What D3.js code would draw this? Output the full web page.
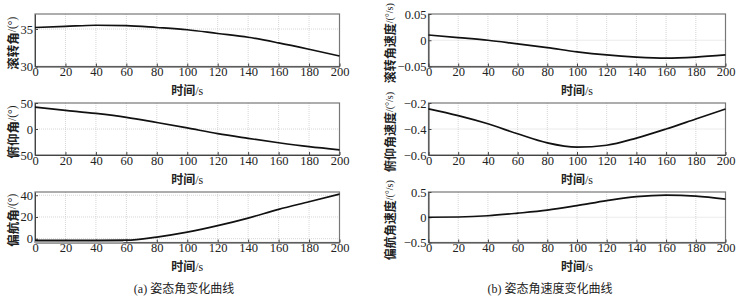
<!DOCTYPE html>
<html>
<head>
<meta charset="utf-8">
<script src="https://cdn.jsdelivr.net/npm/d3@7"></script>
<style>
  body { margin: 0; background: #fff; }
  svg { display: block; }
  .label { font-family: "Noto Sans CJK SC", sans-serif; font-size: 12.5px; font-weight: bold; fill: #222; }
  .unit { font-family: "Liberation Serif", serif; font-weight: normal; }
  .caption { font-family: "Liberation Serif", "Noto Sans CJK SC", serif; font-size: 12px; fill: #222; }
</style>
</head>
<body>
<svg id="chart" width="741" height="297"></svg>
<script>
const time = [0, 20, 40, 60, 80, 100, 120, 140, 160, 180, 200];
const xTicks = [0, 20, 40, 60, 80, 100, 120, 140, 160, 180, 200];

// attitude angles (deg)
const roll = [35.2, 35.35, 35.5, 35.45, 35.2, 34.9, 34.4, 33.9, 33.15, 32.3, 31.4];
const pitch = [42, 36, 30, 22.5, 12.5, 2, -9, -18, -26.5, -34, -40];
const yaw = [-1.5, -1.5, -1.5, -1.4, 1.5, 6, 12, 19, 27, 34, 41];
const yawGrayTime = [0, 58];
const yawGray = [-2.6, -2.6];

// attitude angular rates (deg/s)
const rollRate = [0.01, 0.005, 0, -0.007, -0.014, -0.022, -0.028, -0.032, -0.034, -0.032, -0.028];
const pitchRate = [-0.245, -0.297, -0.36, -0.437, -0.507, -0.54, -0.525, -0.47, -0.4, -0.323, -0.246];
const yawRate = [0, 0.005, 0.03, 0.08, 0.14, 0.23, 0.33, 0.41, 0.44, 0.42, 0.36];

const panels = [
    { col: 0, row: 0, values: roll, domain: [30, 37], ticks: [30, 35], label: '滚转角', unit: '/(°)' },
    { col: 0, row: 1, values: pitch, domain: [-50, 50], ticks: [-50, 0, 50], label: '俯仰角', unit: '/(°)' },
    { col: 0, row: 2, values: yaw, domain: [-3.5, 43], ticks: [0, 20, 40], label: '偏航角', unit: '/(°)', gray: true },
    { col: 1, row: 0, values: rollRate, domain: [-0.05, 0.05], ticks: [-0.05, 0, 0.05], label: '滚转角速度', unit: '/(°/s)' },
    { col: 1, row: 1, values: pitchRate, domain: [-0.6, -0.2], ticks: [-0.6, -0.4, -0.2], label: '俯仰角速度', unit: '/(°/s)' },
    { col: 1, row: 2, values: yawRate, domain: [-0.5, 0.5], ticks: [-0.5, 0, 0.5], label: '偏航角速度', unit: '/(°/s)' }
];

const captions = [
    { text: '(a) 姿态角变化曲线', x: 184 },
    { text: '(b) 姿态角速度变化曲线', x: 550 }
];

const cols = [[35, 339.5], [428.5, 725.5]];
const rows = [[14, 66.5], [103, 155], [192, 242.5]];
const labelX = [12, 389];

const svg = d3.select('#chart');

const fmt = d => (d < 0 ? '\u2212' + Math.abs(d) : String(d));

const styleAxis = axis => {
    axis.style('font-family', '"Liberation Serif", "Times New Roman", serif')
        .style('font-size', '12.5px');
    axis.select('.domain').attr('stroke', '#444');
    axis.selectAll('.tick line').attr('stroke', '#444');
    axis.selectAll('.tick text').attr('fill', '#222');
};

panels.forEach(p => {
    const [x0, x1] = cols[p.col];
    const [y0, y1] = rows[p.row];
    const x = d3.scaleLinear().domain([0, 200]).range([x0, x1]);
    const y = d3.scaleLinear().domain(p.domain).range([y1, y0]);
    const g = svg.append('g');

    // Grid
    g.append('g')
        .selectAll('line')
        .data(xTicks.slice(1, -1))
        .join('line')
        .attr('x1', d => x(d)).attr('x2', d => x(d))
        .attr('y1', y0).attr('y2', y1)
        .attr('stroke', '#ccc').attr('stroke-width', 0.8)
        .attr('stroke-dasharray', '1,1');

    g.append('g')
        .selectAll('line')
        .data(p.ticks.filter(t => y(t) > y0 + 1 && y(t) < y1 - 1))
        .join('line')
        .attr('x1', x0).attr('x2', x1)
        .attr('y1', d => y(d)).attr('y2', d => y(d))
        .attr('stroke', '#ccc').attr('stroke-width', 0.8)
        .attr('stroke-dasharray', '1,1');

    // Frame
    g.append('rect')
        .attr('x', x0).attr('y', y0)
        .attr('width', x1 - x0).attr('height', y1 - y0)
        .attr('fill', 'none')
        .attr('stroke', '#777')
        .attr('stroke-width', 1.2);

    // Axes
    const xAxis = g.append('g')
        .attr('transform', `translate(0,${y1})`)
        .call(d3.axisBottom(x).tickValues(xTicks).tickSize(-3).tickPadding(1).tickSizeOuter(0));
    styleAxis(xAxis);

    const yAxis = g.append('g')
        .attr('transform', `translate(${x0},0)`)
        .call(d3.axisLeft(y).tickValues(p.ticks).tickFormat(fmt).tickSize(-3).tickPadding(2).tickSizeOuter(0));
    styleAxis(yAxis);

    // Gray trace
    if (p.gray) {
        g.append('path')
            .datum(yawGrayTime.map((t, i) => [t, yawGray[i]]))
            .attr('fill', 'none')
            .attr('stroke', '#aaa')
            .attr('stroke-width', 3)
            .attr('d', d3.line().x(d => x(d[0])).y(d => y(d[1])));
    }

    // Curve
    g.append('path')
        .datum(time.map((t, i) => [t, p.values[i]]))
        .attr('fill', 'none')
        .attr('stroke', '#111')
        .attr('stroke-width', 1.7)
        .attr('d', d3.line().curve(d3.curveMonotoneX).x(d => x(d[0])).y(d => y(d[1])));

    // X label
    const xl = g.append('text')
        .attr('class', 'label')
        .attr('x', (x0 + x1) / 2)
        .attr('y', y1 + 28.5)
        .attr('text-anchor', 'middle')
        .style('font-size', '12px');
    xl.append('tspan').text('时间');
    xl.append('tspan').attr('class', 'unit').text('/s');

    // Y label
    const yl = g.append('text')
        .attr('class', 'label')
        .attr('transform', `translate(${labelX[p.col]},${(y0 + y1) / 2 + 3}) rotate(-90)`)
        .attr('text-anchor', 'middle')
        .attr('dominant-baseline', 'central')
        .style('font-size', p.col ? '12px' : null);
    yl.append('tspan').text(p.label);
    yl.append('tspan').attr('class', 'unit').style('font-size', p.col ? '10px' : '11.5px').text(p.unit);
});

svg.selectAll('.caption')
    .data(captions)
    .join('text')
    .attr('class', 'caption')
    .attr('x', d => d.x)
    .attr('y', 293)
    .attr('text-anchor', 'middle')
    .text(d => d.text);
</script>
</body>
</html>
